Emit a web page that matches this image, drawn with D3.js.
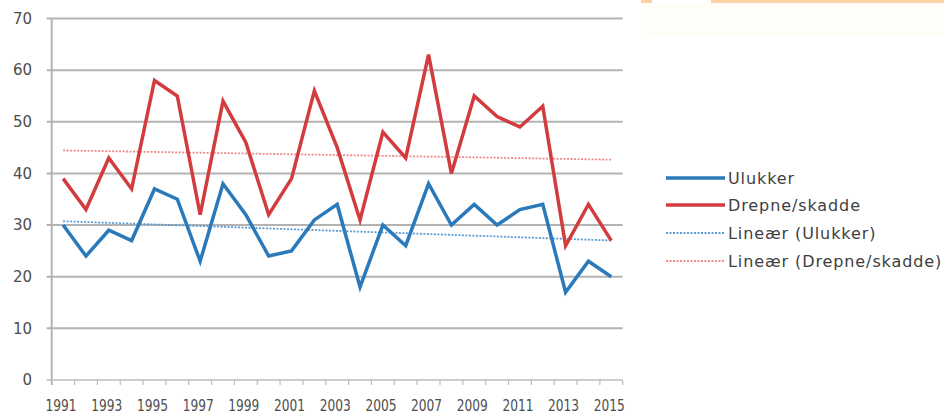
<!DOCTYPE html>
<html>
<head>
<meta charset="utf-8">
<script src="https://cdn.jsdelivr.net/npm/d3@7"></script>
<style>
  html, body { margin: 0; padding: 0; background: #fff; }
  svg { display: block; }
</style>
</head>
<body>
<svg id="chart" width="944" height="417"></svg>
<script>
const years = d3.range(1991, 2016).map(String);
const ulukker = [30, 24, 29, 27, 37, 35, 23, 38, 32, 24, 25, 31, 34, 18, 30, 26, 38, 30, 34, 30, 33, 34, 17, 23, 20];
const drepne  = [39, 33, 43, 37, 58, 55, 32, 54, 46, 32, 39, 56, 45, 31, 48, 43, 63, 40, 55, 51, 49, 53, 26, 34, 27];
const yTicks = [0, 10, 20, 30, 40, 50, 60, 70];
const xTickLabels = years.filter((d, i) => i % 2 === 0);
const legendLabels = ["Ulukker", "Drepne/skadde", "Lineær (Ulukker)", "Lineær (Drepne/skadde)"];

const blue = "#2a79ba", red = "#d23c3e";
const blueTrend = "#5a9bd4", redTrend = "#f08a8a";

const svg = d3.select("#chart");

// faint decoration top-right
svg.append("rect").attr("x", 641).attr("y", 0).attr("width", 11).attr("height", 3).attr("fill", "#fdd3a3");
svg.append("rect").attr("x", 711).attr("y", 0).attr("width", 233).attr("height", 3).attr("fill", "#fdd3a3");
svg.append("rect").attr("x", 641).attr("y", 3).attr("width", 303).attr("height", 34).attr("fill", "#fffdf8");

const pLeft = 51.7, pRight = 622.7, pTop = 18.5, pBottom = 380;
const x = d3.scalePoint().domain(years).range([pLeft, pRight]).padding(0.5);
const xb = d3.scaleBand().domain(years).range([pLeft, pRight]);
const y = d3.scaleLinear().domain([0, 70]).range([pBottom, pTop]);

// gridlines
svg.append("g").selectAll("line").data(yTicks.filter(d => d > 0)).join("line")
  .attr("x1", pLeft - 5).attr("x2", pRight)
  .attr("y1", d => y(d)).attr("y2", d => y(d))
  .attr("stroke", "#b3b3b3").attr("stroke-width", 2);

// y axis line
svg.append("line").attr("x1", pLeft).attr("x2", pLeft).attr("y1", pTop).attr("y2", pBottom + 5)
  .attr("stroke", "#b3b3b3").attr("stroke-width", 2);

// x axis line
svg.append("line").attr("x1", pLeft - 5).attr("x2", pRight).attr("y1", pBottom).attr("y2", pBottom)
  .attr("stroke", "#bdbdbd").attr("stroke-width", 1.5);
// category boundary ticks
const bounds = years.map(d => xb(d)).concat([pRight]);
svg.append("g").selectAll("line").data(bounds).join("line")
  .attr("x1", d => d).attr("x2", d => d).attr("y1", pBottom).attr("y2", pBottom + 5)
  .attr("stroke", "#bdbdbd").attr("stroke-width", 1.2);

// y labels
svg.append("g").selectAll("text").data(yTicks).join("text")
  .attr("x", 32).attr("y", d => y(d)).attr("dy", "0.35em")
  .attr("text-anchor", "end")
  .attr("font-family", "DejaVu Sans, sans-serif").attr("font-size", 15)
  .attr("fill", "#4d4d4d").text(d => d);

// x labels
svg.append("g").selectAll("text").data(xTickLabels).join("text")
  .attr("x", d => x(d) - 2).attr("y", 411)
  .attr("text-anchor", "middle")
  .attr("font-family", "DejaVu Sans, sans-serif").attr("font-size", 16)
  .attr("textLength", 31).attr("lengthAdjust", "spacingAndGlyphs")
  .attr("fill", "#4d4d4d").text(d => d);

// trend lines (least squares)
function trend(vals) {
  const n = vals.length, xs = d3.range(n);
  const mx = d3.mean(xs), my = d3.mean(vals);
  const b = d3.sum(xs, i => (i - mx) * (vals[i] - my)) / d3.sum(xs, i => (i - mx) ** 2);
  return xs.map(i => my + b * (i - mx));
}
const line = d3.line().x((d, i) => x(years[i])).y(d => y(d));

svg.append("path").attr("d", line(trend(drepne))).attr("fill", "none")
  .attr("stroke", redTrend).attr("stroke-width", 1.8).attr("stroke-dasharray", "2,1.5");
svg.append("path").attr("d", line(trend(ulukker))).attr("fill", "none")
  .attr("stroke", blueTrend).attr("stroke-width", 1.8).attr("stroke-dasharray", "2,1.5");

svg.append("path").attr("d", line(ulukker)).attr("fill", "none")
  .attr("stroke", blue).attr("stroke-width", 3.5).attr("stroke-linejoin", "miter");
svg.append("path").attr("d", line(drepne)).attr("fill", "none")
  .attr("stroke", red).attr("stroke-width", 3.5).attr("stroke-linejoin", "miter");

// legend
const legY = [178, 205, 233, 261];
const legStyles = [
  {c: blue, w: 3.5, dash: null},
  {c: red, w: 3.5, dash: null},
  {c: blueTrend, w: 1.8, dash: "2,1.5"},
  {c: redTrend, w: 1.8, dash: "2,1.5"}
];
const leg = svg.append("g");
legendLabels.forEach((t, i) => {
  leg.append("line").attr("x1", 666).attr("x2", 725).attr("y1", legY[i]).attr("y2", legY[i])
    .attr("stroke", legStyles[i].c).attr("stroke-width", legStyles[i].w)
    .attr("stroke-dasharray", legStyles[i].dash);
  leg.append("text").attr("x", 728).attr("y", legY[i]).attr("dy", "0.35em")
    .attr("font-family", "DejaVu Sans, sans-serif").attr("font-size", 16)
    .attr("letter-spacing", 0.9)
    .attr("fill", "#404040").text(t);
});
</script>
</body>
</html>
